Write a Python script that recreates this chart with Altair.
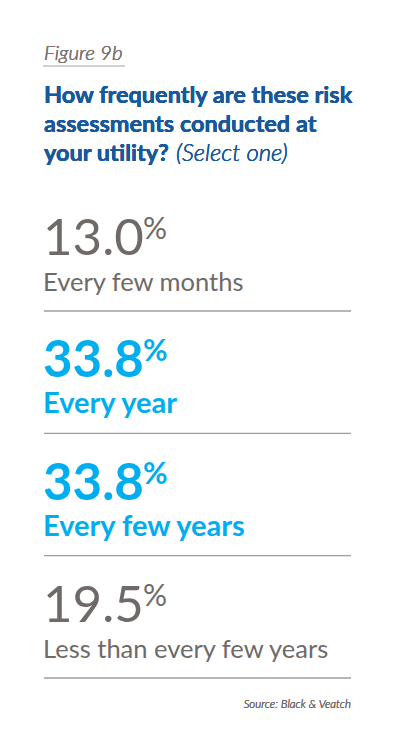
import altair as alt
import pandas as pd

# survey answers
frequency_labels = ["Every few months", "Every year", "Every few years", "Less than every few years"]
percent_values = [13.0, 33.8, 33.8, 19.5]
highlighted = [False, True, True, False]

figure_label = "Figure 9b"
question_lines = ["How frequently are these risk", "assessments conducted at", "your utility?"]
question_note = "(Select one)"
source_note = "Source: Black & Veatch"

GRAY = "#6f6a68"
CYAN = "#00aeef"
NAVY = "#17599b"
FONT = "Lato"

df = pd.DataFrame(
    {
        "row": list(range(len(frequency_labels))),
        "label": frequency_labels,
        "value": percent_values,
        "highlight": highlighted,
    }
)

base = alt.Chart(df).encode(
    y=alt.Y("row:Q", scale=alt.Scale(domain=[0, 3], range=[303, 670]), axis=None),
    x=alt.value(35),
)

rules = base.mark_rule(color="#a09c9a", strokeWidth=1.3).encode(
    x=alt.value(36), x2=alt.value(343)
)


def row_layers(flag, color, weight, num_size, pct_dx, label_size):
    part = base.transform_filter(alt.datum.highlight == flag)
    number = part.mark_text(
        align="left", baseline="alphabetic", dy=-56, font=FONT,
        fontSize=num_size, fontWeight=weight, color=color,
    ).encode(text=alt.Text("value:Q", format=".1f"))
    pct = part.mark_text(
        align="left", baseline="alphabetic", dy=-72, dx=pct_dx, font=FONT,
        fontSize=30, fontWeight=weight, color=color,
    ).encode(text=alt.value("%"))
    label = part.mark_text(
        align="left", baseline="alphabetic", dy=-20, font=FONT,
        fontSize=label_size, fontWeight=weight, color=color,
    ).encode(text="label:N")
    return [number, pct, label]


plain = row_layers(False, GRAY, 400, 51, 100, 25.5)
bold = row_layers(True, CYAN, "bold", 51, 100, 29)

# header and footer texts
fig_text = alt.Chart(df).mark_text(
    align="left", baseline="alphabetic", font=FONT, fontSize=20.5,
    fontStyle="italic", fontWeight=300, color="#7a7472",
).encode(x=alt.value(36), y=alt.value(52), text=alt.value(figure_label))
fig_line = alt.Chart(df).mark_rule(color="#cfcccb", strokeWidth=1).encode(
    x=alt.value(35), x2=alt.value(117), y=alt.value(58)
)

title_layers = []
for i, line in enumerate(question_lines):
    title_layers.append(
        alt.Chart(df).mark_text(
            align="left", baseline="alphabetic", font=FONT, fontSize=23.5,
            fontWeight="bold", color=NAVY,
        ).encode(x=alt.value(36), y=alt.value(94.5 + 29 * i), text=alt.value(line))
    )
note = alt.Chart(df).mark_text(
    align="left", baseline="alphabetic", font=FONT, fontSize=24,
    fontStyle="italic", fontWeight=300, color=NAVY,
).encode(x=alt.value(168), y=alt.value(152.5), text=alt.value(question_note))

source = alt.Chart(df).mark_text(
    align="right", baseline="alphabetic", font=FONT, fontSize=11.5,
    fontStyle="italic", fontWeight=300, color=GRAY,
).encode(x=alt.value(343), y=alt.value(700), text=alt.value(source_note))

chart = (
    alt.layer(rules, *plain, *bold, fig_text, fig_line, *title_layers, note, source)
    .properties(width=384, height=732, padding=0, background="white")
    .configure_view(stroke=None)
)

chart.save("out.html", embed_options={"renderer": "svg", "actions": False})
